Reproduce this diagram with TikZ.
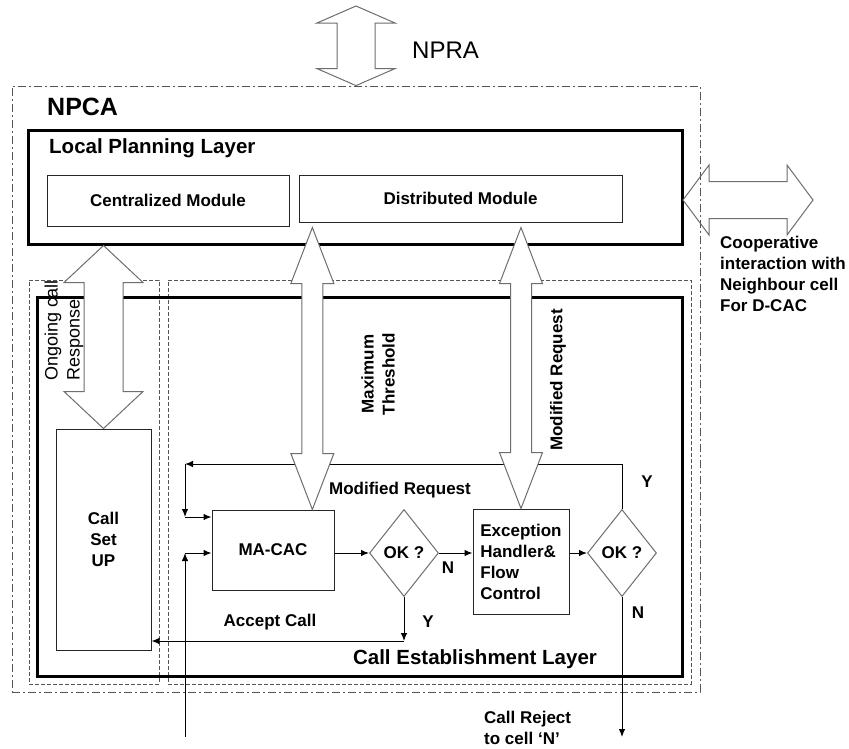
\documentclass[tikz,border=0pt]{standalone}
\usepackage{fontspec}
\setmainfont{Liberation Sans}
\usetikzlibrary{shapes.geometric, arrows.meta, positioning, calc}
\definecolor{FrameGray}{HTML}{555555}
\definecolor{ArrowGray}{HTML}{6E6E6E}
\tikzset{
  % Frame styles
  npcaframe/.style={rectangle, draw=FrameGray, line width=0.8pt, dash pattern=on 8pt off 3pt on 2pt off 3pt, inner sep=0},
  layerbox/.style={rectangle, draw=black, line width=3pt, inner sep=0},
  groupbox/.style={rectangle, draw=FrameGray, line width=0.8pt, dash pattern=on 4pt off 2pt, inner sep=0},
  % Box styles
  modulebox/.style={rectangle, draw=black!85, line width=1pt, inner sep=0, font=\fontsize{17}{21}\selectfont\bfseries, align=center},
  decisionbox/.style={diamond, draw=ArrowGray, line width=1pt, inner sep=0, minimum width=69pt, minimum height=87pt, font=\fontsize{17}{21}\selectfont\bfseries},
  % Text styles
  labeltext/.style={inner sep=0, font=\fontsize{17}{21}\selectfont\bfseries, align=left},
  titletext/.style={inner sep=0, font=\fontsize{20.5}{24}\selectfont\bfseries},
  % Arrow styles
  arrow/.style={->, >={Latex[length=8pt, width=6.5pt]}, line width=1pt, black},
  fatarrow/.style={draw=ArrowGray, line width=1pt, fill=white, line join=miter}
}
% vertical block arrow: top, bottom, shaft half width, head half width, head length
\newcommand{\fatarrowV}[5]{%
  \draw[fatarrow] let \p1=(#1), \p2=(#2) in
    (\x1,\y1) -- (\x1+#4pt,\y1-#5pt) -- (\x1+#3pt,\y1-#5pt) -- (\x1+#3pt,\y2+#5pt)
    -- (\x1+#4pt,\y2+#5pt) -- (\x1,\y2) -- (\x1-#4pt,\y2+#5pt) -- (\x1-#3pt,\y2+#5pt)
    -- (\x1-#3pt,\y1-#5pt) -- (\x1-#4pt,\y1-#5pt) -- cycle;}
% horizontal block arrow: [style] left, right, shaft half width, head half width, head length
\newcommand{\fatarrowH}[6][]{%
  \draw[fatarrow, #1] let \p1=(#2), \p2=(#3) in
    (\x1,\y1) -- (\x1+#6pt,\y1+#5pt) -- (\x1+#6pt,\y1+#4pt) -- (\x2-#6pt,\y1+#4pt)
    -- (\x2-#6pt,\y1+#5pt) -- (\x2,\y1) -- (\x2-#6pt,\y1-#5pt) -- (\x2-#6pt,\y1-#4pt)
    -- (\x1+#6pt,\y1-#4pt) -- (\x1+#6pt,\y1-#5pt) -- cycle;}

\begin{document}
\begin{tikzpicture}[x=1pt, y=-1pt]
  \useasboundingbox[fill=white] (0,0) rectangle (849,748);

  % NPCA frame
  \node[npcaframe, minimum width=688pt, minimum height=606pt] (npca) at (356,389) {};
  \node[titletext, font=\fontsize{25}{29}\selectfont\bfseries, anchor=west] (npcalbl) at (47,107) {NPCA};
  \node[font=\fontsize{24}{28}\selectfont, inner sep=0, anchor=west] (npralbl) at (412,50) {NPRA};

  % Local planning layer
  \node[layerbox, minimum width=654pt, minimum height=114pt] (lpl) at (355,187) {};
  \node[titletext, anchor=west] (lpllbl) at (49,148) {Local Planning Layer};
  \node[modulebox, minimum width=242pt, minimum height=51pt] (central) at (168,200.5) {Centralized Module};
  \node[modulebox, minimum width=323pt, minimum height=47pt] (dist) at (460.5,198.5) {Distributed Module};

  % Call establishment layer
  \node[groupbox, minimum width=130pt, minimum height=404pt] (leftgroup) at (94,482) {};
  \node[groupbox, minimum width=523pt, minimum height=404pt] (rightgroup) at (429.5,482) {};
  \node[layerbox, minimum width=645pt, minimum height=379pt] (cel) at (359.5,486.5) {};
  \node[titletext] (cellbl) at (475,659) {Call Establishment Layer};

  \node[modulebox, minimum width=95pt, minimum height=221pt] (callsetup) at (103.5,539.5) {Call\\Set\\UP};
  \node[modulebox, minimum width=122pt, minimum height=80pt] (macac) at (273,550) {MA-CAC};
  \node[decisionbox] (ok1) at (404,553) {OK ?};
  \node[modulebox, minimum width=96pt, minimum height=105pt, align=left] (exc) at (521,561.5) {Exception\\Handler\&\\Flow\\Control};
  \node[decisionbox] (ok2) at (622,553) {OK ?};

  % Labels
  \node[font=\fontsize{18}{22}\selectfont, inner sep=0, align=left, rotate=90, anchor=west] (ongoinglbl) at (64,381) {Ongoing call\\Response};
  \node[labeltext, align=center, rotate=90] (maxlbl) at (378,374) {Maximum\\Threshold};
  \node[labeltext, rotate=90] (modvlbl) at (558,380) {Modified Request};
  \node[labeltext] (modlbl) at (400,490) {Modified Request};
  \node[labeltext] (acceptlbl) at (270,622) {Accept Call};
  \node[labeltext] (ylbl1) at (428,622) {Y};
  \node[labeltext] (nlbl1) at (448,568) {N};
  \node[labeltext] (ylbl2) at (647,482) {Y};
  \node[labeltext] (nlbl2) at (638,613) {N};
  \node[labeltext, anchor=north west] (rejectlbl) at (484,711) {Call Reject\\to cell ‘N’};
  \node[labeltext, anchor=north west] (cooplbl) at (720,236) {Cooperative\\interaction with\\Neighbour cell\\For D-CAC};

  % Call flow
  \coordinate (fbcorner) at (185,464);
  \coordinate (fbin) at (185,517);
  \coordinate (callin) at (185,737);
  \coordinate (callinend) at (callin |- ok1);
  \coordinate (acceptend) at ($(ok1.south)+(0,44)$);
  \draw[arrow] (macac.east |- ok1) -- (ok1.west);
  \draw[arrow] (ok1.east) -- (ok1.east -| exc.west);
  \draw[arrow] (exc.east |- ok2) -- (ok2.west);
  \draw[arrow] (ok2.north) |- (fbcorner);
  \draw[arrow] (fbcorner) -- (fbin);
  \draw[arrow] (fbin) -- (fbin -| macac.west);
  \draw[arrow] (callin) -- (callinend);
  \draw[arrow] (callinend) -- (callinend -| macac.west);
  \draw[arrow] (ok1.south) -- (acceptend);
  \draw[arrow] (acceptend) -- (acceptend -| callsetup.east);
  \draw[arrow] (ok2.south) -- (ok2.south |- callin);

  % Block arrows
  \coordinate (npratop) at (356,6);
  \coordinate (maxbot) at ($(macac.north west)!0.82!(macac.north east)$);
  \coordinate (maxtop) at ([yshift=-5pt]maxbot |- dist.south);
  \coordinate (modtop) at ([yshift=-5pt]exc.north |- dist.south);
  \coordinate (coopleft) at (683,200);
  \coordinate (coopright) at (813,200);
  \fatarrowV{npratop}{npca.north}{19}{39}{17}
  \fatarrowV{callsetup.north |- lpl.south}{callsetup.north}{19.5}{39.5}{37}
  \fatarrowV{maxtop}{maxbot}{10.5}{21.5}{56}
  \fatarrowV{modtop}{exc.north}{10.5}{21.5}{56}
  \fatarrowH[fill=none]{coopleft}{coopright}{18.5}{35}{26}
\end{tikzpicture}
\end{document}
